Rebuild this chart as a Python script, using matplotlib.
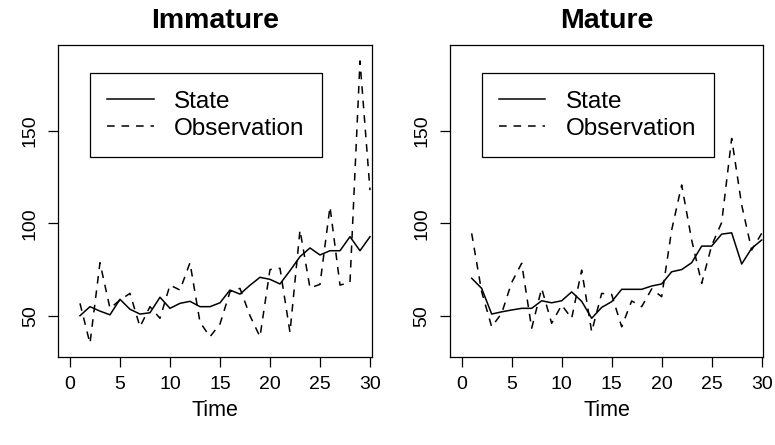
import matplotlib.pyplot as plt

plt.rcParams['font.family'] = ['Liberation Sans', 'DejaVu Sans']

# values
time = list(range(1, 31))
imm_state = [50.0, 54.9, 52.5, 50.5, 58.9, 53.5, 50.9, 51.6, 60.0, 54.0,
             56.7, 57.8, 54.9, 54.9, 57.0, 63.9, 61.7, 66.5, 70.8, 69.7,
             67.2, 74.4, 82.0, 86.7, 82.9, 85.2, 85.2, 92.8, 85.2, 92.8]
imm_obs = [56.7, 35.0, 78.7, 54.0, 58.5, 62.1, 44.0, 54.9, 48.6, 66.6,
           63.9, 78.7, 46.5, 38.6, 45.5, 63.0, 64.8, 50.0, 38.6, 75.0,
           75.7, 41.0, 96.4, 65.0, 67.0, 109.0, 66.6, 68.0, 188.0, 118.0]
mat_state = [70.3, 64.8, 50.9, 52.1, 53.1, 54.0, 54.0, 58.1, 57.0, 58.1,
             62.9, 57.8, 48.6, 54.5, 57.6, 64.3, 64.3, 64.3, 66.1, 67.2,
             73.8, 75.0, 78.7, 87.7, 87.7, 94.2, 94.9, 78.0, 86.5, 91.0]
mat_obs = [94.6, 63.0, 44.0, 51.3, 68.0, 78.4, 43.2, 64.8, 45.9, 55.8,
           48.6, 74.7, 41.3, 62.1, 61.5, 44.0, 58.0, 54.9, 64.5, 60.3,
           96.4, 120.8, 91.0, 67.5, 88.0, 100.5, 146.0, 110.0, 85.6, 94.6]

panel_titles = ['Immature', 'Mature']
x_ticks = [0, 5, 10, 15, 20, 25, 30]
y_ticks = [50, 100, 150]

fig = plt.figure(figsize=(7.75, 4.45), dpi=100)
positions = [[0.0752, 0.1984, 0.4044, 0.7004],
             [0.5806, 0.1984, 0.4044, 0.7004]]
series = [(imm_state, imm_obs), (mat_state, mat_obs)]

for pos, title, (state, obs) in zip(positions, panel_titles, series):
    ax = fig.add_axes(pos)
    ax.plot(time, state, color='black', lw=1.1, label='State')
    ax.plot(time, obs, color='black', lw=1.1, ls=(0, (5.0, 4.5)),
            label='Observation')
    ax.set_xlim(-1.17, 30.17)
    ax.set_ylim(27.8, 196.6)
    ax.set_xticks(x_ticks)
    ax.set_yticks(y_ticks)
    ax.set_yticklabels([str(v) for v in y_ticks], rotation=90, va='center')
    ax.tick_params(direction='out', length=7, width=0.9, labelsize=14,
                   pad=7, colors='black')
    for s in ax.spines.values():
        s.set_linewidth(0.9)
    ax.set_xlabel('Time', fontsize=15.5, labelpad=5)
    ax.set_title(title, fontsize=20.5, fontweight='bold', pad=12)
    leg = ax.legend(loc='upper left', bbox_to_anchor=(0.101, 0.909),
                    fontsize=17.5, fancybox=False, edgecolor='black',
                    framealpha=1, borderpad=0.72, labelspacing=0.2,
                    handlelength=1.9, handletextpad=0.85, borderaxespad=0)
    leg.get_frame().set_linewidth(0.9)

fig.savefig('out.png', dpi=100)
